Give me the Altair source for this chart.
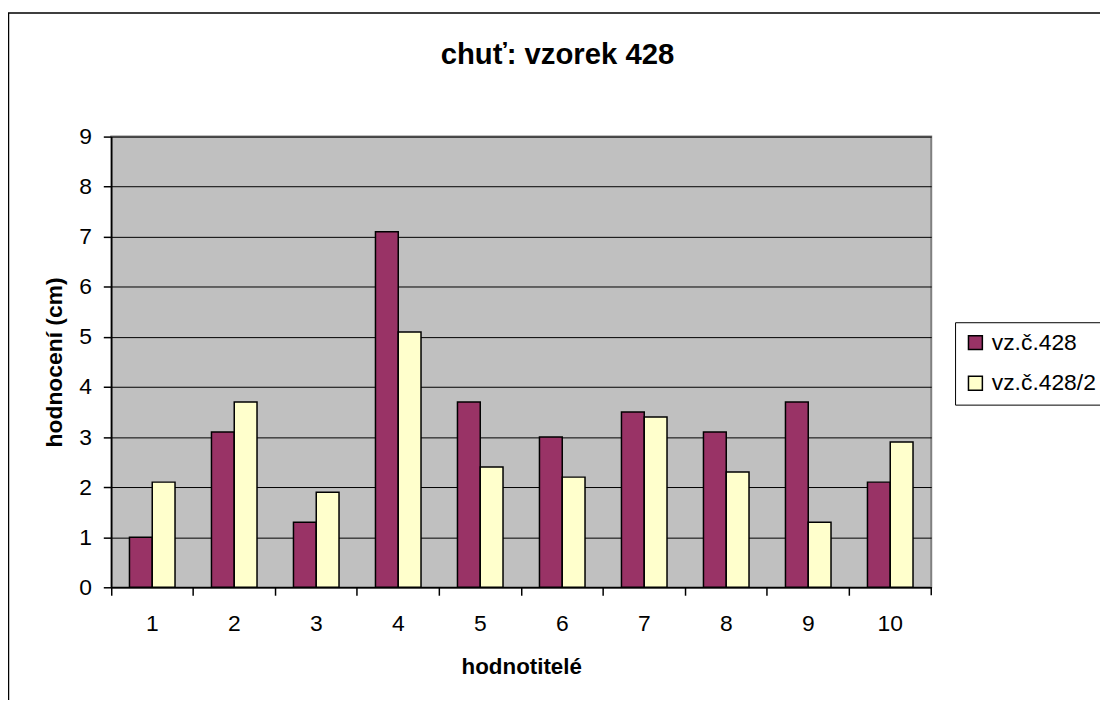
import altair as alt
import pandas as pd

raters = [str(i) for i in range(1, 11)]
s1 = [1.0, 3.1, 1.3, 7.1, 3.7, 3.0, 3.5, 3.1, 3.7, 2.1]
s2 = [2.1, 3.7, 1.9, 5.1, 2.4, 2.2, 3.4, 2.3, 1.3, 2.9]
series = ["vz.č.428", "vz.č.428/2"]
colors = ["#993366", "#FFFFCC"]
y_ticks = list(range(10))
title_text = "chuť: vzorek 428"

FONT = "Liberation Sans, Arial, sans-serif"
W, H = 826, 454

df = pd.DataFrame({
    "rater": raters * 2,
    "value": s1 + s2,
    "series": [series[0]] * len(s1) + [series[1]] * len(s2),
})

x_scale = alt.Scale(domain=raters, paddingInner=0, paddingOuter=0)

bars = alt.Chart(df).mark_bar(stroke="black", strokeWidth=1.5).encode(
    x=alt.X("rater:N", sort=raters, scale=x_scale,
            axis=alt.Axis(title="hodnotitelé", orient="bottom", labelAngle=0, ticks=False,
                          domainColor="black", domainWidth=1.5,
                          labelFont=FONT, labelFontSize=23, labelColor="black",
                          labelPadding=26, titleFont=FONT, titleFontSize=22.5,
                          titleFontWeight="bold", titleColor="black", titlePadding=20)),
    xOffset=alt.XOffset("series:N", sort=series,
                        scale=alt.Scale(domain=series, paddingInner=0, paddingOuter=0.8)),
    y=alt.Y("value:Q", scale=alt.Scale(domain=[0, 9], nice=False, zero=True),
            axis=alt.Axis(values=y_ticks, title="hodnocení (cm)", grid=True,
                          gridColor="black", gridWidth=1, gridOpacity=1,
                          tickColor="black", tickSize=8, tickWidth=1.5,
                          domainColor="black", domainWidth=1.5,
                          labelFont=FONT, labelFontSize=23, labelColor="black",
                          labelPadding=12, titleFont=FONT, titleFontSize=23,
                          titleFontWeight="bold", titleColor="black", titlePadding=12)),
    color=alt.Color("series:N", sort=series,
                    scale=alt.Scale(domain=series, range=colors),
                    legend=alt.Legend(title=None, orient="none", legendX=850, legendY=187,
                                      strokeColor="black", fillColor="white",
                                      padding=9, symbolType="square", symbolSize=196,
                                      symbolStrokeColor="black", symbolStrokeWidth=1.5,
                                      labelFont=FONT, labelFontSize=23, labelColor="black",
                                      labelOffset=5, rowPadding=17)),
)

# tick marks on the category boundaries (Excel style)
ticks = alt.Chart(df).mark_bar(opacity=0).encode(
    x=alt.X("rater:N", sort=raters, scale=x_scale,
            axis=alt.Axis(title=None, orient="bottom", labels=False, domain=False,
                          bandPosition=0, ticks=True, tickColor="black",
                          tickSize=8, tickWidth=1.5)),
    y=alt.Y("value:Q"),
)

end_tick = alt.Chart(pd.DataFrame({"a": [0]})).mark_rule(color="black", strokeWidth=1.5).encode(
    x=alt.value(W), y=alt.value(H), y2=alt.value(H + 8)
)

frame = alt.Chart(pd.DataFrame({"a": [0]})).mark_rect(
    fill=None, stroke="black", strokeWidth=1.5, clip=False
).encode(
    x=alt.value(-103.5), x2=alt.value(1200), y=alt.value(-124.5), y2=alt.value(700)
)

title = alt.Chart(pd.DataFrame({"t": [title_text]})).mark_text(
    font=FONT, fontSize=29.5, fontWeight="bold", color="black", align="center", baseline="alphabetic"
).encode(x=alt.value(449.5), y=alt.value(-73), text="t:N")

chart = alt.layer(frame, bars, ticks, end_tick, title).resolve_axis(x="independent").properties(
    width=W, height=H,
    autosize=alt.AutoSizeParams(type="none"),
    padding={"left": 104, "top": 127, "right": 170, "bottom": 111},
).configure_view(fill="#C0C0C0", stroke="#808080", strokeWidth=2)

chart.save("out.html", embed_options={"renderer": "svg", "actions": False})
